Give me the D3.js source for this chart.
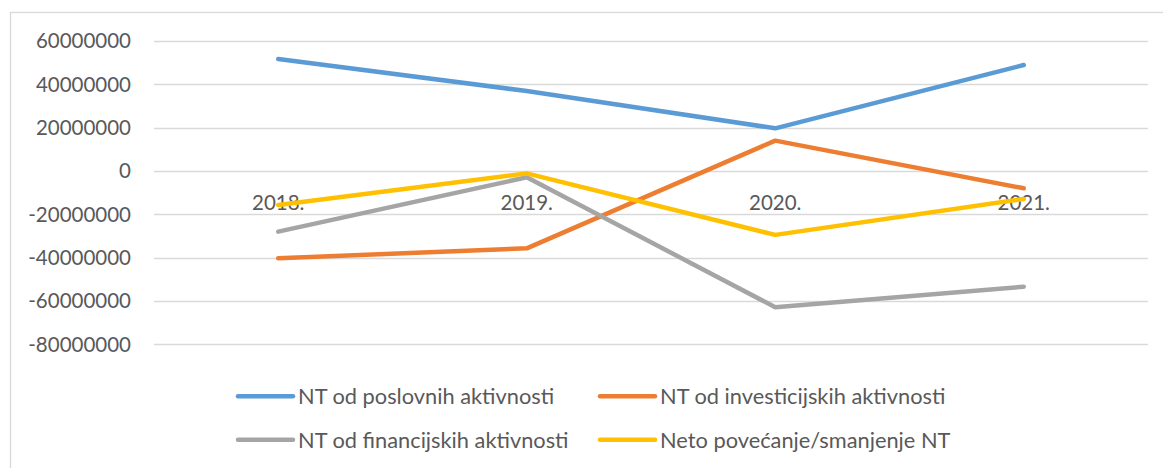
<!DOCTYPE html>
<html>
<head>
<meta charset="utf-8">
<script src="https://cdn.jsdelivr.net/npm/d3@7"></script>
<style>
  body { margin: 0; background: #fff; }
  text { font-family: Lato, "Open Sans", sans-serif; fill: #595959; }
</style>
</head>
<body>
<script>
  // categories and series
  var years = ["2018.", "2019.", "2020.", "2021."];
  var seriesNames = ["NT od poslovnih aktivnosti", "NT od investicijskih aktivnosti",
                     "NT od financijskih aktivnosti", "Neto povećanje/smanjenje NT"];
  var poslovne = [51700000, 36900000, 19700000, 48900000];
  var investicijske = [-40300000, -35700000, 14000000, -8000000];
  var financijske = [-28000000, -2900000, -62900000, -53400000];
  var neto = [-15700000, -1100000, -29500000, -12900000];
  var yTicks = [60000000, 40000000, 20000000, 0, -20000000, -40000000, -60000000, -80000000];
  var colors = ["#5B9BD5", "#ED7D31", "#A5A5A5", "#FFC000"];

  var width = 1163, height = 468;

  var svg = d3.select("body").append("svg")
    .attr("width", width)
    .attr("height", height);

  //chart border
  svg.append("rect")
    .attr("x", 10.5).attr("y", 12.5)
    .attr("width", 1200).attr("height", 500)
    .attr("fill", "none")
    .attr("stroke", "#d9d9d9")
    .attr("stroke-width", 1.3);

  var x = d3.scaleBand().domain(years).range([154, 1148]);
  var y = d3.scaleLinear().domain([-80000000, 60000000]).range([344.3, 41]);

  //gridlines
  svg.append("g").selectAll("line")
    .data(yTicks)
    .enter().append("line")
    .attr("x1", 154).attr("x2", 1148)
    .attr("y1", function(d) { return Math.round(y(d)) + 0.5; })
    .attr("y2", function(d) { return Math.round(y(d)) + 0.5; })
    .attr("stroke", "#d9d9d9")
    .attr("stroke-width", 1.3);

  //y axis labels
  svg.append("g").selectAll("text")
    .data(yTicks)
    .enter().append("text")
    .attr("x", 131)
    .attr("y", function(d) { return y(d); })
    .attr("dy", "0.36em")
    .attr("text-anchor", "end")
    .style("font-size", "20.5px")
    .text(function(d) { return d; });

  var series = [poslovne, investicijske, financijske, neto];

  //category labels next to the zero line
  svg.append("g").selectAll("text")
    .data(years)
    .enter().append("text")
    .attr("x", function(d) { return x(d) + x.bandwidth() / 2; })
    .attr("y", 210)
    .attr("text-anchor", "middle")
    .style("font-size", "20.5px")
    .text(function(d) { return d; });

  var line = d3.line()
    .x(function(d, i) { return x(years[i]) + x.bandwidth() / 2; })
    .y(function(d) { return y(d); });

  svg.append("g").selectAll("path")
    .data(series)
    .enter().append("path")
    .attr("d", line)
    .attr("fill", "none")
    .attr("stroke", function(d, i) { return colors[i]; })
    .attr("stroke-width", 4.5)
    .attr("stroke-linecap", "round")
    .attr("stroke-linejoin", "round");

  //legend, two rows of two
  var legendPos = [[238, 396.3], [600, 396.3], [238, 439.7], [600, 439.7]];
  var legend = svg.append("g").selectAll("g")
    .data(seriesNames)
    .enter().append("g")
    .attr("transform", function(d, i) { return "translate(" + legendPos[i][0] + "," + legendPos[i][1] + ")"; });

  legend.append("line")
    .attr("x1", 0).attr("x2", 55)
    .attr("stroke", function(d, i) { return colors[i]; })
    .attr("stroke-width", 4.5)
    .attr("stroke-linecap", "round");

  legend.append("text")
    .attr("x", 60)
    .attr("dy", "0.36em")
    .style("font-size", "21.8px")
    .text(function(d) { return d; });
</script>
</body>
</html>
